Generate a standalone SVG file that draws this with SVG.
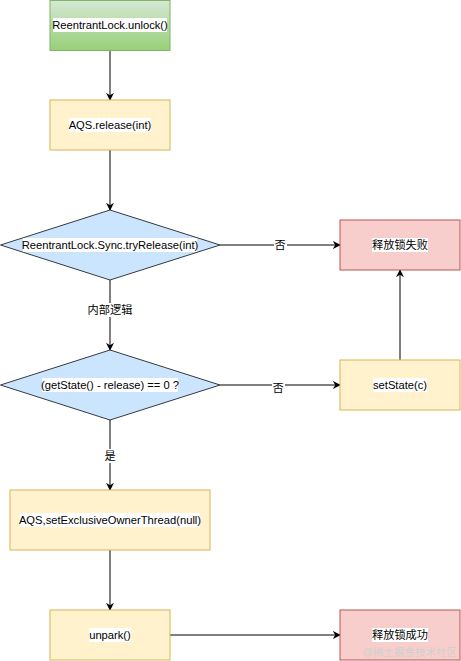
<svg xmlns="http://www.w3.org/2000/svg" width="461" height="661" viewBox="0 0 461 661">
<defs>
<linearGradient id="green" x1="0" y1="0" x2="0" y2="1">
<stop offset="0" stop-color="#d5e8d4"/>
<stop offset="1" stop-color="#97d077"/>
</linearGradient>
<marker id="arr" viewBox="0 0 10 10" refX="9" refY="5" markerWidth="8" markerHeight="8" markerUnits="userSpaceOnUse" orient="auto">
<path d="M0,0 L10,5 L0,10 L3,5 Z" fill="#000"/>
</marker>
</defs>
<style>
.yellow{fill:#fff2cc;stroke:#d6b656;stroke-width:1}
.red{fill:#f8cecc;stroke:#b85450;stroke-width:1}
.blue{fill:#cce5ff;stroke:#36393d;stroke-width:1}
.greenbox{fill:url(#green);stroke:#82b366;stroke-width:1}
.edge{fill:none;stroke:#000;stroke-width:1;marker-end:url(#arr)}
.bg{fill:#fff;stroke:none}
text{font-family:"Liberation Sans","Noto Sans CJK SC",Arial,sans-serif;font-size:11.2px;fill:#000;text-anchor:middle;dominant-baseline:central}
.wm{font-size:10.5px;fill:#cfcfcf;text-anchor:end}
</style>
<rect width="461" height="661" fill="#fff"/>
<g id="connectors">
<line class="edge" x1="110" y1="50" x2="110" y2="100"/>
<line class="edge" x1="110" y1="150" x2="110" y2="210"/>
<line class="edge" x1="220" y1="245" x2="340" y2="245"/>
<line class="edge" x1="110" y1="280" x2="110" y2="350"/>
<line class="edge" x1="220" y1="385" x2="340" y2="385"/>
<line class="edge" x1="400" y1="360" x2="400" y2="270"/>
<line class="edge" x1="110" y1="420" x2="110" y2="490"/>
<line class="edge" x1="110" y1="550" x2="110" y2="610"/>
<line class="edge" x1="170" y1="635" x2="340" y2="635"/>
<rect class="bg" x="274" y="238" width="13" height="14"/>
<text x="280" y="245">否</text>
<rect class="bg" x="86" y="303" width="47" height="14"/>
<text x="110" y="310">内部逻辑</text>
<rect class="bg" x="272" y="381" width="13" height="14"/>
<text x="278" y="388">否</text>
<rect class="bg" x="103" y="449" width="14" height="14"/>
<text x="110" y="456">是</text>
</g>
<g id="unlock">
<rect class="greenbox" x="50" y="0.5" width="120" height="50"/>
<rect class="bg" x="53" y="18" width="114" height="14"/>
<text x="110" y="25">ReentrantLock.unlock()</text>
</g>
<g id="release">
<rect class="yellow" x="50" y="100" width="120" height="50"/>
<rect class="bg" x="69" y="118" width="82" height="14"/>
<text x="110" y="125">AQS.release(int)</text>
</g>
<g id="tryRelease">
<polygon class="blue" points="110,210 220,245 110,280 0.5,245"/>
<rect class="bg" x="23" y="238" width="174" height="14"/>
<text x="110" y="245">ReentrantLock.Sync.tryRelease(int)</text>
</g>
<g id="fail">
<rect class="red" x="340" y="220" width="120" height="50"/>
<rect class="bg" x="372" y="238" width="56" height="14"/>
<text x="400" y="245">释放锁失败</text>
</g>
<g id="check">
<polygon class="blue" points="110,350 220,385 110,420 0.5,385"/>
<rect class="bg" x="42" y="378" width="136" height="14"/>
<text x="110" y="385">(getState() - release) == 0 ?</text>
</g>
<g id="setState">
<rect class="yellow" x="340" y="360" width="120" height="50"/>
<rect class="bg" x="373" y="378" width="54" height="14"/>
<text x="400" y="385">setState(c)</text>
</g>
<g id="setOwner">
<rect class="yellow" x="10" y="490" width="200" height="60"/>
<rect class="bg" x="20" y="513" width="180" height="14"/>
<text x="110" y="520">AQS,setExclusiveOwnerThread(null)</text>
</g>
<g id="unpark">
<rect class="yellow" x="50" y="610" width="120" height="50"/>
<rect class="bg" x="89" y="628" width="42" height="14"/>
<text x="110" y="635">unpark()</text>
</g>
<g id="success">
<rect class="red" x="340" y="610" width="120" height="50"/>
<rect class="bg" x="372" y="628" width="56" height="14"/>
<text x="400" y="635">释放锁成功</text>
</g>
<text class="wm" x="457" y="652">@稀土掘金技术社区</text>
</svg>
